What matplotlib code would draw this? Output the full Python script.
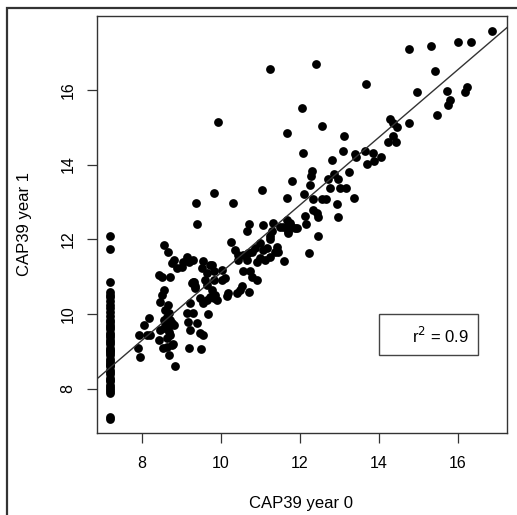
import matplotlib.pyplot as plt
from matplotlib.patches import Rectangle

plt.rcParams['font.family'] = ['Liberation Sans', 'DejaVu Sans']

# samples sitting at the lower limit in year 0
floor_x = 7.2
floor_y = [12.1, 11.75, 10.85, 10.6, 10.5, 10.45, 10.35, 10.25, 10.15, 10.05,
           9.95, 9.85, 9.8, 9.7, 9.65, 9.6, 9.5, 9.45, 9.4, 9.3, 9.25, 9.2,
           9.1, 9.05, 9.0, 8.95, 8.9, 8.8, 8.75, 8.7, 8.65, 8.6, 8.5, 8.45,
           8.4, 8.3, 8.25, 8.2, 8.1, 8.05, 8.0, 7.95, 7.9, 7.25, 7.2]

# remaining samples (year 0, year 1)
year0 = [7.92, 8.12, 8.21, 8.04, 8.17, 7.91, 7.96, 8.42, 8.63, 8.68, 8.84, 8.78,
         8.54, 8.75, 8.55, 8.51, 8.46, 8.65, 8.59, 8.68, 8.63, 8.55, 8.72, 8.59,
         8.68, 8.76, 8.46, 8.55, 8.68, 8.80, 8.63, 8.72,
         8.55, 8.65, 8.80, 8.89, 8.76, 8.42, 8.51, 8.72, 9.31, 9.35, 9.39,
         9.05, 9.01, 9.13, 9.20, 9.30, 9.55,
         9.78, 10.02, 9.64, 9.59, 9.81, 10.10, 9.30, 9.34, 9.64, 9.76, 9.81, 9.64,
         9.47, 9.89, 9.55, 9.22, 9.13, 9.30, 9.17, 9.38, 9.22, 9.47, 9.55, 9.68,
         9.20, 9.49, 10.14, 10.18, 10.40, 10.52, 10.72, 10.56, 10.73, 10.78, 10.90,
         10.35, 10.44, 10.56, 10.69, 10.78, 10.65, 10.44, 10.99, 11.11, 10.90, 11.24,
         10.99, 10.86, 11.07, 11.16, 11.41, 11.45, 11.60, 10.25, 11.24, 10.71, 10.65,
         11.06, 11.32, 11.28, 11.49, 11.68, 11.75, 11.58, 11.87, 11.70,
         11.79, 11.03, 9.83, 9.36, 10.31, 11.68, 9.92, 11.24, 12.40,
         9.85, 9.72, 10.48, 10.02, 9.81, 9.51, 9.72, 9.26,
         13.67, 12.04, 12.56, 11.68, 13.11, 12.08, 13.10, 13.39, 13.42, 13.65, 13.84,
         13.70, 13.88, 14.05, 14.28, 14.36, 14.45, 14.24, 14.36, 14.43, 12.82, 12.30,
         12.27, 12.25, 12.86, 12.72, 12.97, 13.24, 12.76, 13.01, 13.16, 12.10, 12.32,
         12.55, 12.66, 12.93, 13.37, 12.34, 12.42, 12.46, 12.13, 12.97, 11.75, 11.92,
         11.70, 12.15, 11.24, 12.45, 11.37, 12.23,
         16.85, 14.77, 15.31, 16.00, 16.33, 15.42, 14.97, 15.71, 16.24, 16.18, 15.81,
         15.75, 15.46, 14.77]
year1 = [9.44, 9.45, 9.44, 9.71, 9.89, 9.10, 8.85, 9.31, 9.13, 8.91, 8.60, 9.20,
         9.10, 9.18, 10.65, 10.51, 10.33, 10.25, 10.11, 10.02, 9.93, 9.84, 9.84, 9.76,
         9.67, 9.76, 9.58, 9.62, 9.53, 9.71, 9.36, 9.44,
         11.85, 11.67, 11.45, 11.23, 11.36, 11.05, 11.00, 11.00, 10.87, 10.69, 12.40,
         11.40, 11.27, 11.52, 11.40, 11.45, 11.42,
         11.30, 11.18, 11.09, 10.91, 10.91, 10.96, 10.87, 10.74, 10.78, 10.65, 10.43, 10.38,
         10.43, 10.38, 10.29, 10.29, 10.02, 10.02, 9.80, 9.76, 9.58, 9.49, 9.44, 10.01,
         9.10, 9.07, 10.48, 10.56, 10.56, 10.74, 10.59, 11.14, 11.14, 11.00, 10.91,
         11.72, 11.58, 11.58, 11.63, 11.67, 11.45, 11.45, 11.49, 11.45, 11.40, 11.54,
         11.90, 11.76, 11.72, 11.76, 11.80, 11.67, 11.43, 11.92, 12.00, 12.40, 12.21,
         12.38, 12.43, 12.21, 12.32, 12.52, 12.43, 12.34, 12.30, 12.21,
         13.57, 13.32, 13.25, 12.97, 12.98, 13.10, 15.13, 16.56, 16.68,
         10.52, 10.45, 10.65, 10.92, 11.15, 11.24, 11.32, 10.83,
         16.15, 15.52, 15.04, 14.84, 14.76, 14.30, 14.37, 14.28, 14.19, 14.36, 14.32,
         14.01, 14.09, 14.21, 15.22, 15.10, 15.01, 14.61, 14.76, 14.59, 14.12, 13.84,
         13.68, 13.45, 13.74, 13.61, 13.61, 13.80, 13.38, 13.38, 13.38, 13.21, 13.07,
         13.08, 13.08, 12.95, 13.10, 12.79, 12.70, 12.59, 12.63, 12.59, 12.39, 12.31,
         12.16, 12.40, 12.08, 12.10, 11.67, 11.64,
         17.58, 17.09, 17.16, 17.27, 17.29, 16.49, 15.93, 15.97, 16.08, 15.93, 15.73,
         15.59, 15.33, 15.12]

# least-squares line and its r^2
fit_intercept = 2.06
fit_slope = 0.905
r_squared = 0.9

fig = plt.figure(figsize=(5.17, 5.15), dpi=100)
ax = fig.add_axes([0.1876, 0.1592, 0.7930, 0.8103])

ax.scatter([floor_x] * len(floor_y), floor_y, s=40, c='black', linewidths=0)
ax.scatter(year0, year1, s=40, c='black', linewidths=0)
ax.axline((0, fit_intercept), slope=fit_slope, color='#333333', lw=1)

ax.set_xlim(6.86, 17.24)
ax.set_ylim(6.82, 17.98)
ax.set_xticks([8, 10, 12, 14, 16])
ax.set_yticks([8, 10, 12, 14, 16])
ax.tick_params(length=7.5, width=0.9, color='#333333', labelsize=11.5)
ax.tick_params(axis='x', pad=9)
ax.tick_params(axis='y', pad=8)
for lab in ax.get_yticklabels():
    lab.set_rotation(90)
    lab.set_va('center')
for sp in ax.spines.values():
    sp.set_color('#333333')
    sp.set_linewidth(1)

ax.set_xlabel('CAP39 year 0', fontsize=12)
ax.set_ylabel('CAP39 year 1', fontsize=12)
ax.xaxis.set_label_coords(0.498, -0.152)
ax.yaxis.set_label_coords(-0.158, 0.5)

# r^2 box
ax.add_patch(Rectangle((0.687, 0.188), 0.242, 0.096, transform=ax.transAxes,
                       fill=False, ec='#444444', lw=1))
ax.text(0.907, 0.232, r'r$^2$ = %.1f' % r_squared, transform=ax.transAxes,
        ha='right', va='center', fontsize=12)

# outer frame
fig.patches.append(Rectangle((0.0135, -0.02), 1.1, 0.9845 + 0.02,
                             transform=fig.transFigure, fill=False,
                             ec='#333333', lw=1.6, clip_on=False))

fig.savefig('out.png', dpi=100)
